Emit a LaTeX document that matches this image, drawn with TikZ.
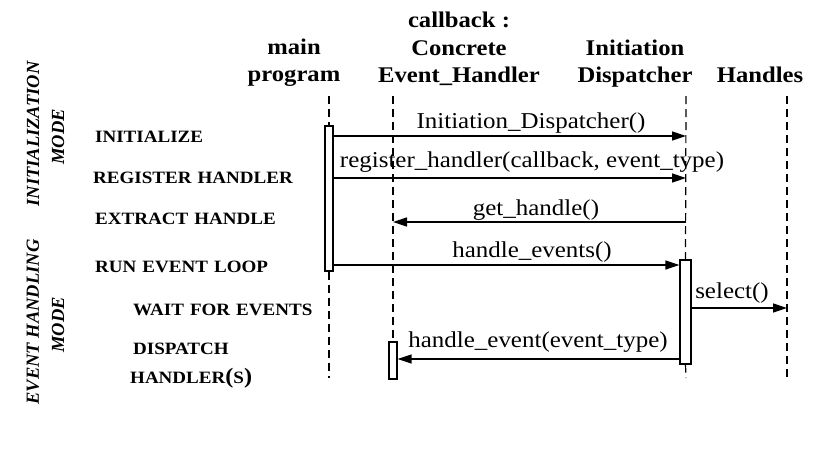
\documentclass[tikz,border=0pt]{standalone}
\usepackage{fontspec}
\setmainfont{Liberation Serif}[FakeStretch=1.1]
\newfontfamily\rotfont{Liberation Serif}
\usetikzlibrary{arrows.meta}
\begin{document}
\begin{tikzpicture}[x=1pt,y=1pt,
  lifeline/.style={line width=1.2pt,dash pattern=on 8pt off 5pt},
  actbox/.style={draw,line width=1.2pt,fill=white,inner sep=0pt},
  msg/.style={line width=1.4pt,-{Triangle[length=14pt,width=9pt]}},
  msglabel/.style={anchor=base,inner sep=0pt,font=\fontsize{22.7}{27}\selectfont},
  header/.style={anchor=south,align=center,inner sep=0pt,text depth=0pt,font=\fontsize{22.4}{27.5}\selectfont\bfseries},
  steplabel/.style={anchor=base west,inner sep=0pt,font=\fontsize{17.3}{20}\selectfont\bfseries},
  modelabel/.style={rotate=90,anchor=center,inner sep=0pt,font=\rotfont\fontsize{18.5}{20}\selectfont\bfseries\itshape}]
\useasboundingbox (0,0) rectangle (821,-450);

% headers
\node[header] (hmain) at (294,-82) {main\\program};
\node[header] (hcb) at (459,-83) {callback :\\Concrete\\Event\_Handler};
\node[header] (hdisp) at (635,-83) {Initiation\\Dispatcher};
\node[header] (hhand) at (760,-83) {Handles};

% mode labels
\node[modelabel] (m1) at (33,-134) {INITIALIZATION};
\node[modelabel] (m2) at (58,-137) {MODE};
\node[modelabel] (m3) at (33,-322) {EVENT HANDLING};
\node[modelabel] (m4) at (58,-325) {MODE};

% step labels
\node[steplabel] (s1) at (95,-142) {INITIALIZE};
\node[steplabel] (s2) at (93,-183) {REGISTER\hspace{0.35em}HANDLER};
\node[steplabel] (s3) at (95,-224) {EXTRACT\hspace{0.35em}HANDLE};
\node[steplabel] (s4) at (95,-272) {RUN\hspace{0.35em}EVENT\hspace{0.35em}LOOP};
\node[steplabel] (s5) at (133,-315) {WAIT\hspace{0.35em}FOR\hspace{0.35em}EVENTS};
\node[steplabel] (s6) at (133,-354) {DISPATCH};
\node[steplabel] (s7) at (130,-383) {HANDLER{\fontsize{22}{22}\selectfont(}S{\fontsize{22}{22}\selectfont)}};

% lifeline ends
\coordinate (mtop) at (329,-96);
\coordinate (mbot) at (329,-378);
\coordinate (htop) at (393,-96);
\coordinate (dtop) at (686,-96);
\coordinate (dbot) at (686,-378);
\coordinate (ltop) at (787,-96);
\coordinate (lbot) at (787,-378);

% activation boxes
\node[actbox,minimum width=8pt,minimum height=145pt] (mbox) at (329,-198.5) {};
\node[actbox,minimum width=11pt,minimum height=104pt] (dbox) at (685.5,-312) {};
\node[actbox,minimum width=8pt,minimum height=37pt] (hbox) at (393,-360.5) {};

% lifelines
\draw[lifeline] (mtop) -- (mbox.north);
\draw[lifeline] (mbox.south) -- (mbot);
\draw[lifeline] (htop) -- (hbox.north);
\draw[lifeline] (dtop) -- (dbox.north);
\draw[lifeline] (dbox.south) -- (dbot);
\draw[lifeline] (ltop) -- (lbot);

% message end points
\coordinate (a1) at (686,-136);
\coordinate (a2) at (686,-178);
\coordinate (a3s) at (686,-222);
\coordinate (a3e) at (393,-222);
\coordinate (a4) at (686,-265);
\coordinate (a5) at (787,-308);
\coordinate (a6) at (686,-359);

% messages
\draw[msg] (mbox.east |- a1) -- (a1);
\draw[msg] (mbox.east |- a2) -- (a2);
\draw[msg] (a3s) -- (a3e);
\draw[msg] (mbox.east |- a4) -- (dbox.west |- a4);
\draw[msg] (dbox.east |- a5) -- (a5);
\draw[msg] (dbox.west |- a6) -- (hbox.east |- a6);

% message labels
\node[msglabel] (l1) at (531,-128) {Initiation\_Dispatcher()};
\node[msglabel] (l2) at (532,-167) {register\_handler(callback, event\_type)};
\node[msglabel] (l3) at (536,-215) {get\_handle()};
\node[msglabel] (l4) at (532,-257) {handle\_events()};
\node[msglabel] (l5) at (732,-298) {select()};
\node[msglabel] (l6) at (538,-347) {handle\_event(event\_type)};
\end{tikzpicture}
\end{document}
